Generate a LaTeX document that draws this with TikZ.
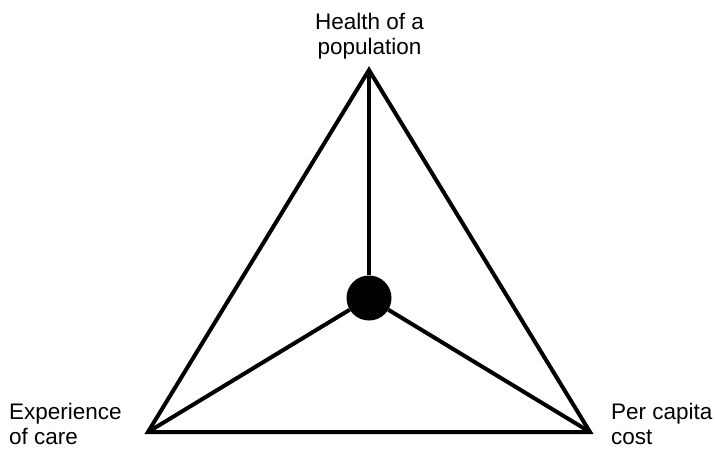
\documentclass[tikz,border=0pt]{standalone}
\usepackage{fontspec}
\setmainfont{Liberation Sans}
\usetikzlibrary{positioning}

\begin{document}
\begin{tikzpicture}[x=1pt, y=-1pt, font=\fontsize{22.5}{25.5}\selectfont,
    edge/.style={line width=4pt, draw=ink},
    label/.style={inner sep=0pt, text=ink}]
  \definecolor{ink}{HTML}{000000}
  \useasboundingbox[fill=white] (0,0) rectangle (715,448);

  \coordinate (health) at (369,70);
  \coordinate (care) at (148,432);
  \coordinate (cost) at (590,432);
  \node[circle, fill=ink, minimum size=45pt, inner sep=0pt] (hub) at (369,298) {};

  \draw[edge] (health) -- (care) -- (cost) -- cycle;
  \draw[edge] (hub) -- (health);
  \draw[edge] (hub) -- (care);
  \draw[edge] (hub) -- (cost);

  % base anchor sits on the last line
  \node[label, anchor=base, align=center] (healthlbl) at (369.5,54.5) {Health of a\\population};
  \node[label, anchor=base west, align=left] (carelbl) at (9,444.5) {Experience\\of care};
  \node[label, anchor=base west, align=left] (costlbl) at (611,444.5) {Per capita\\cost};
\end{tikzpicture}
\end{document}
